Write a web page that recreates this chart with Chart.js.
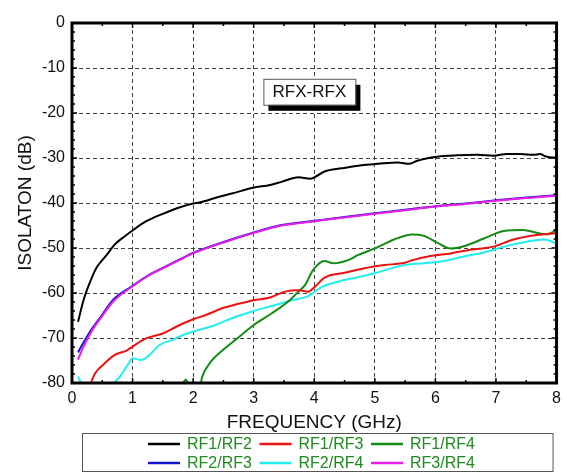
<!DOCTYPE html>
<html>
<head>
<meta charset="utf-8">
<script src="https://cdn.jsdelivr.net/npm/chart.js@4.4.0/dist/chart.umd.min.js"></script>
<style>
  html, body { margin: 0; padding: 0; background: #fff; }
  #wrap { width: 567px; height: 473px; }
</style>
</head>
<body>
<div id="wrap"><canvas id="myChart" width="567" height="473"></canvas></div>
<script>
// RF1/RF2
var rf12Freq = [0.1, 0.19, 0.3, 0.4, 0.57, 0.7, 0.85, 1.0, 1.22, 1.5, 1.77, 2.0, 2.1, 2.43, 2.64, 2.99, 3.27, 3.46, 3.74, 3.93, 4.17, 4.45, 4.78, 5.05, 5.38, 5.57, 5.7, 6.03, 6.36, 6.69, 6.96, 7.18, 7.4, 7.62, 7.73, 7.81, 7.95, 8.0];
var rf12 = [-66.4, -61.6, -57.5, -54.5, -51.6, -49.3, -47.6, -46.1, -44.1, -42.4, -41.0, -40.1, -39.9, -38.6, -37.9, -36.6, -36.0, -35.3, -34.3, -34.6, -33.0, -32.3, -31.6, -31.3, -31.0, -31.3, -30.6, -29.7, -29.4, -29.3, -29.5, -29.1, -29.1, -29.3, -29.1, -29.6, -29.9, -29.9];

// RF1/RF3
var rf13Freq = [0.27, 0.3, 0.38, 0.51, 0.7, 0.9, 1.0, 1.22, 1.5, 1.72, 1.99, 2.21, 2.48, 2.75, 3.0, 3.27, 3.52, 3.74, 3.9, 4.01, 4.17, 4.5, 4.83, 5.16, 5.49, 5.62, 5.92, 6.25, 6.58, 6.96, 7.29, 7.67, 8.0];
var rf13 = [-81.5, -80.4, -77.9, -76.0, -73.8, -72.8, -71.9, -70.1, -69.0, -67.5, -65.9, -64.9, -63.4, -62.4, -61.6, -61.0, -59.7, -59.4, -59.7, -58.6, -56.6, -55.5, -54.5, -53.8, -53.3, -52.7, -51.8, -51.2, -50.4, -49.7, -48.1, -47.1, -46.7];

// RF1/RF4
var rf14Freq = [1.78, 1.88, 1.96, 2.1, 2.15, 2.29, 2.43, 2.54, 2.7, 2.86, 3.0, 3.3, 3.57, 3.74, 3.85, 3.98, 4.17, 4.31, 4.56, 4.72, 5.0, 5.32, 5.62, 5.81, 6.03, 6.25, 6.47, 6.8, 7.13, 7.45, 7.67, 7.84, 7.92, 8.0];
var rf14 = [-81.5, -79.3, -81.5, -81.5, -78.6, -75.3, -73.4, -72.1, -70.4, -68.6, -67.1, -64.5, -61.9, -59.7, -58.2, -54.9, -52.9, -53.4, -52.7, -51.6, -50.1, -48.1, -47.0, -47.3, -48.8, -50.1, -49.6, -47.9, -46.2, -46.0, -46.6, -47.0, -46.6, -45.8];

// RF2/RF3 and RF3/RF4 (almost on top of each other)
var rf23Freq = [0.1, 0.19, 0.32, 0.49, 0.68, 0.99, 1.28, 1.5, 1.77, 2.0, 2.54, 2.99, 3.46, 3.98, 4.5, 5.0, 5.5, 6.0, 6.5, 7.0, 7.5, 8.0];
var rf23 = [-73.2, -71.0, -68.1, -65.0, -61.5, -58.5, -55.9, -54.4, -52.6, -51.1, -48.5, -46.6, -44.9, -44.0, -43.1, -42.3, -41.5, -40.7, -40.1, -39.4, -38.8, -38.3];
var rf34Freq = rf23Freq;
var rf34 = [-74.8, -71.9, -68.6, -65.3, -61.9, -58.6, -56.0, -54.5, -52.7, -51.2, -48.6, -46.7, -45.0, -44.1, -43.2, -42.4, -41.6, -40.8, -40.2, -39.5, -38.9, -38.4];

// RF2/RF4
var rf24Freq = [0.1, 0.16, 0.2, 0.62, 0.68, 0.79, 0.92, 1.0, 1.14, 1.28, 1.44, 1.66, 1.88, 2.1, 2.37, 2.64, 3.0, 3.3, 3.63, 3.9, 4.12, 4.39, 4.72, 5.0, 5.49, 5.81, 6.09, 6.47, 6.8, 7.13, 7.51, 7.78, 7.89, 8.0];
var rf24 = [-78.6, -80.4, -82.0, -82.0, -80.3, -78.6, -76.0, -74.5, -74.9, -73.8, -71.6, -70.4, -69.1, -68.2, -67.1, -65.6, -64.0, -62.9, -61.6, -60.7, -58.7, -57.5, -56.5, -55.6, -53.8, -53.4, -53.0, -51.9, -51.0, -49.7, -48.6, -48.1, -48.4, -49.1];

var xTicks = [0, 1, 2, 3, 4, 5, 6, 7, 8];
var yTicks = [-80, -70, -60, -50, -40, -30, -20, -10, 0];
var noteText = 'RFX-RFX';

var FONT = "'Liberation Sans', Arial, sans-serif";

function pts(xs, ys) {
    return xs.map(function (x, i) { return { x: x, y: ys[i] }; });
}

function series(label, xs, ys, color, order) {
    return {
        label: label,
        data: pts(xs, ys),
        borderColor: color,
        backgroundColor: color,
        borderWidth: 2,
        pointRadius: 0,
        cubicInterpolationMode: 'monotone',
        clip: 0,
        order: order
    };
}

// magenta gets the lowest order so it is drawn over the blue one
var datasets = [
    series('RF1/RF2', rf12Freq, rf12, '#000000', 1),
    series('RF1/RF3', rf13Freq, rf13, '#ee1111', 1),
    series('RF1/RF4', rf14Freq, rf14, '#138a13', 1),
    series('RF2/RF3', rf23Freq, rf23, '#1515d0', 2),
    series('RF2/RF4', rf24Freq, rf24, '#22eef0', 1),
    series('RF3/RF4', rf34Freq, rf34, '#e81ee8', 0)
];

// frame with inward ticks, drawn over the curves
var framePlugin = {
    id: 'frame',
    afterDatasetsDraw: function (chart) {
        var ctx = chart.ctx, a = chart.chartArea;
        var xs = chart.scales.x, ys = chart.scales.y;
        ctx.save();
        ctx.strokeStyle = '#000';
        ctx.lineWidth = 1.5;
        ctx.beginPath();
        for (var v = 0; v <= 8; v += 0.5) {
            var px = xs.getPixelForValue(v);
            var len = (v % 1) ? 3 : 5;
            ctx.moveTo(px, a.bottom); ctx.lineTo(px, a.bottom - len);
            ctx.moveTo(px, a.top); ctx.lineTo(px, a.top + len);
        }
        for (var w = -80; w <= 0; w += 2) {
            var py = ys.getPixelForValue(w);
            var l2 = (w % 10) ? 3 : 5;
            ctx.moveTo(a.left, py); ctx.lineTo(a.left + l2, py);
            ctx.moveTo(a.right, py); ctx.lineTo(a.right - l2, py);
        }
        ctx.stroke();
        ctx.lineWidth = 3;
        ctx.strokeRect(a.left, a.top, a.right - a.left, a.bottom - a.top);
        ctx.restore();
    },
    afterDraw: function (chart) {
        var ctx = chart.ctx, a = chart.chartArea;
        var xs = chart.scales.x, ys = chart.scales.y;
        ctx.save();

        // note box with shadow
        var bx = xs.getPixelForValue(3.16), by = ys.getPixelForValue(-12.4);
        var bw = 92, bh = 26;
        ctx.fillStyle = '#000';
        ctx.fillRect(bx + 5, by + 6, bw, bh);
        ctx.fillStyle = '#fff';
        ctx.fillRect(bx, by, bw, bh);
        ctx.strokeStyle = '#555';
        ctx.lineWidth = 1;
        ctx.strokeRect(bx + 0.5, by + 0.5, bw, bh);
        ctx.fillStyle = '#111';
        ctx.font = '17px ' + FONT;
        ctx.textAlign = 'center';
        ctx.textBaseline = 'middle';
        ctx.fillText(noteText, bx + bw / 2, by + bh / 2 + 1);

        // legend box, 3 columns x 2 rows
        var lx = a.left + 10, ly = a.bottom + 50;
        var lw = a.right - 4 - lx, lh = 38;
        ctx.strokeStyle = '#555';
        ctx.lineWidth = 1;
        ctx.strokeRect(lx + 0.5, ly + 0.5, lw, lh);
        ctx.font = '16px ' + FONT;
        ctx.textAlign = 'left';
        chart.data.datasets.forEach(function (ds, i) {
            var col = i % 3, row = Math.floor(i / 3);
            var sx = a.left + 76 + col * 111.5;
            var sy = ly + 11 + row * 19;
            ctx.strokeStyle = ds.borderColor;
            ctx.lineWidth = 2.5;
            ctx.beginPath();
            ctx.moveTo(sx, sy); ctx.lineTo(sx + 32, sy);
            ctx.stroke();
            ctx.fillStyle = '#1f8a1f';
            ctx.fillText(ds.label, sx + 39, sy + 1);
        });
        ctx.restore();
    }
};

var ctx = document.getElementById('myChart').getContext('2d');
var myChart = new Chart(ctx, {
    type: 'line',
    data: { datasets: datasets },
    options: {
        responsive: false,
        animation: false,
        layout: { padding: { top: 23, right: 7, left: 0, bottom: 0 } },
        plugins: {
            legend: { display: false },
            tooltip: { enabled: false }
        },
        scales: {
            x: {
                type: 'linear',
                min: 0,
                max: 8,
                afterFit: function (scale) { scale.height = 90; },
                afterBuildTicks: function (scale) {
                    scale.ticks = xTicks.map(function (v) { return { value: v }; });
                },
                ticks: {
                    padding: 6,
                    color: '#111',
                    font: { family: FONT, size: 16 },
                    maxRotation: 0
                },
                grid: { color: '#444', lineWidth: 1, drawTicks: false },
                border: { display: false, dash: [4, 3] },
                title: {
                    display: true,
                    text: 'FREQUENCY (GHz)',
                    color: '#111',
                    font: { family: FONT, size: 19 },
                    padding: { top: 0, bottom: 39 }
                }
            },
            y: {
                min: -80,
                max: 0,
                afterFit: function (scale) { scale.width = 72; },
                afterBuildTicks: function (scale) {
                    scale.ticks = yTicks.map(function (v) { return { value: v }; });
                },
                ticks: {
                    padding: 7,
                    color: '#111',
                    font: { family: FONT, size: 16 }
                },
                grid: { color: '#444', lineWidth: 1, drawTicks: false },
                border: { display: false, dash: [4, 3] },
                title: {
                    display: true,
                    text: 'ISOLATON (dB)',
                    color: '#111',
                    font: { family: FONT, size: 19 },
                    padding: { top: 14, bottom: 0 }
                }
            }
        }
    },
    plugins: [framePlugin]
});
</script>
</body>
</html>
